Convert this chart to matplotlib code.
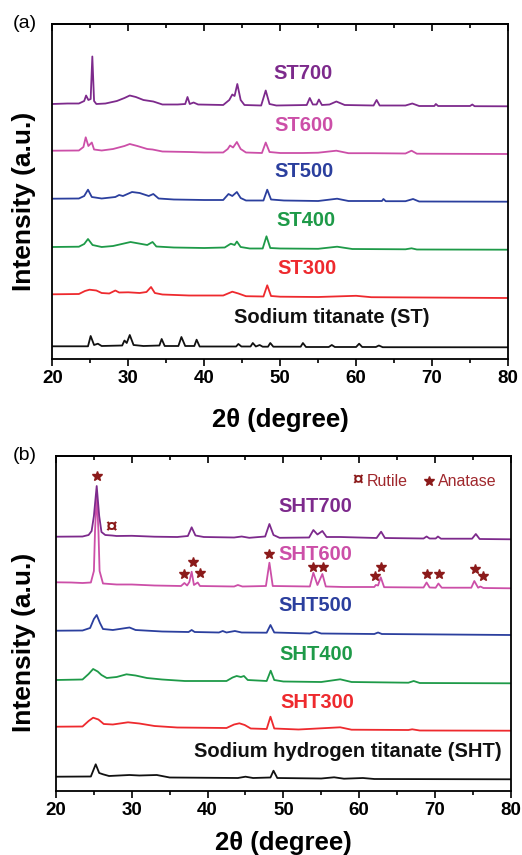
import matplotlib
matplotlib.use("Agg")
import matplotlib.pyplot as plt
from matplotlib.ticker import MultipleLocator

plt.rcParams['font.family'] = ['Liberation Sans', 'DejaVu Sans']

# ---------------- Panel (a) data: (2theta, intensity a.u. incl. offset) ----------------
st700_x = [20, 22, 23.5, 24.2, 24.45, 24.75, 25.05, 25.27, 25.5, 25.8, 27, 28.5, 29.5, 30.2, 31, 32, 33.3, 34.5,
           36.5, 37.5, 37.8, 38.1, 38.6, 39.2, 42.5, 43.3, 43.7, 44.0, 44.36, 44.8, 45.3, 47.5, 48.1, 48.6, 49.5,
           53.5, 53.9, 54.3, 54.8, 55.1, 55.5, 56.5, 57.4, 58.5, 62.3, 62.7, 63.1, 65, 66.5, 67.4, 68.3, 70.3,
           70.5, 70.8, 75, 75.3, 75.6, 80]
st700_y = [255, 255.5, 255.5, 258, 263.5, 259, 260, 302.5, 258, 255, 255.5, 258, 261, 263.5, 262, 259, 257.5,
           254.5, 254.5, 255, 262, 255, 256.5, 254.5, 254, 259, 264.5, 263, 275, 259, 254, 253.5, 268.5, 255,
           253.5, 254, 261, 254.5, 254.5, 259.5, 254, 254.5, 257.5, 254, 253.5, 259, 253.5, 253.5, 253.5, 255.5,
           253, 253, 255, 253, 253, 254.5, 252.8, 252.7]

st600_x = [20, 23.5, 24.1, 24.4, 24.75, 25.2, 25.5, 26.5, 28, 29.5, 30.2, 31.2, 32.5, 33.2, 34.5, 38, 40, 42.5,
           43.1, 43.4, 43.8, 44.3, 44.8, 45.5, 47.6, 48.1, 48.6, 50, 53, 55, 57.4, 59, 62, 66.5, 67.3, 68, 80]
st600_y = [208.3, 208.5, 212, 221.7, 213, 216.5, 209.5, 208.5, 210, 213, 215, 213, 210, 209.5, 207.5, 207,
           206.5, 206.5, 210, 213.5, 211.5, 217, 210, 206.5, 206, 216.5, 207, 206, 206, 206.3, 208.3, 205.8,
           205.8, 205.5, 208.3, 205.3, 205]

st500_x = [20, 23.5, 24.2, 24.7, 25.2, 26.5, 28.3, 28.8, 29.3, 30.5, 31.5, 32.7, 33.3, 34, 36, 40, 42.5, 43.2,
           43.7, 44.3, 44.8, 45.5, 47.8, 48.3, 48.8, 50.5, 55, 57.5, 59, 63.4, 63.6, 63.9, 66.5, 67.5, 68.3, 80]
st500_y = [160.3, 160.5, 163, 169.3, 162, 160.5, 162, 164, 163, 167, 166, 163, 165, 160.5, 159.5, 159, 159,
           165, 163, 167, 161, 158.5, 158.5, 169.3, 159.5, 158.5, 158, 160.3, 158, 158, 160, 157.8, 157.8, 160,
           157.5, 157.3]

st400_x = [20, 23.5, 24.2, 24.7, 25.3, 26.5, 28, 30.3, 32.5, 33.2, 33.7, 36, 40, 42.7, 43.5, 44.0, 44.3, 44.8,
           46, 47.7, 48.2, 48.7, 50, 55, 57.5, 59.5, 66.5, 67.3, 68, 80]
st400_y = [112, 112.3, 115, 120, 114, 112, 113, 117, 114, 117, 112.5, 111.5, 111, 111.5, 115.3, 114, 117.5, 112,
           110.5, 110.5, 122.7, 111, 110.5, 110.2, 112.3, 110, 109.7, 110.7, 109.5, 109.3]

st300_x = [20, 23.5, 24.3, 24.9, 25.8, 26.5, 27.5, 28.3, 28.8, 30, 31.5, 32.4, 33.0, 33.5, 34.5, 38, 42.5, 43.7,
           44.5, 45.5, 47.8, 48.3, 48.8, 50, 55, 60, 62, 80]
st300_y = [64.7, 65, 68, 69.3, 68.5, 66, 65.5, 68.5, 66.5, 66.7, 66, 67, 72, 66, 64.5, 63.5, 63.5, 67.3, 65.5,
           62.8, 62.5, 73.7, 63, 62.3, 62, 63.2, 61.8, 61]

st_x = [20, 24.7, 25.05, 25.5, 26.0, 26.5, 29.2, 29.5, 29.8, 30.2, 30.7, 32, 34.1, 34.4, 34.8, 36.6, 37.0, 37.5,
        38.7, 39.0, 39.4, 44.2, 44.5, 44.9, 46.1, 46.4, 46.8, 47.3, 47.7, 48.4, 48.7, 49.1, 52.7, 53.0, 53.4,
        56.4, 56.8, 57.2, 60.0, 60.4, 60.8, 62.6, 63.0, 63.5, 80]
st_y = [12.7, 12.7, 23, 14, 15.3, 13, 13.5, 18.5, 16, 24, 14, 13, 13.5, 20, 13, 13, 22, 13, 13, 19.3, 12.5,
        12.5, 15, 12.5, 12.5, 16, 12.5, 14, 12.3, 12.3, 16, 12.3, 12.3, 16, 12, 12, 14, 12, 12, 15.3, 12, 12,
        13.5, 11.8, 11.7]

labels_a = ["Sodium titanate (ST)", "ST300", "ST400", "ST500", "ST600", "ST700"]
label_a_x = [56.8, 53.5, 53.4, 53.15, 53.15, 52.97]
label_a_y = [41.7, 91, 138.3, 187.7, 233.3, 285.3]

# ---------------- Panel (b) data ----------------
sht700_x = [20, 23.5, 24.3, 24.7, 25.0, 25.37, 25.7, 26.0, 26.5, 27.4, 28, 30, 33, 36, 37.4, 37.9, 38.4, 39.5,
            43.5, 44.5, 45.5, 47.6, 48.16, 48.7, 49.5, 53.4, 53.96, 54.5, 55.15, 55.7, 57.5, 62.3, 62.9, 63.4,
            68.5, 68.9, 69.3, 70.1, 70.4, 70.8, 74.9, 75.4, 75.9, 80]
sht700_y = [254.3, 254.5, 256, 260, 275, 305, 275, 259, 256, 255.5, 255, 255.2, 254.3, 254, 255, 263.7, 255.5,
            254, 253.5, 254.5, 253.2, 254.5, 267, 256, 253.2, 253.5, 261, 256.5, 260, 254, 254, 253, 259.3, 253,
            252.5, 254.5, 252.5, 252.5, 254.5, 252.3, 252.3, 257, 252, 251.7]

sht600_x = [20, 22, 23.5, 24.6, 25.0, 25.15, 25.37, 25.6, 25.75, 26.2, 28, 30, 33, 36.5, 36.94, 37.3, 37.6,
            37.9, 38.2, 38.7, 39.0, 43.5, 44, 44.6, 47.7, 48.16, 48.6, 53.5, 53.96, 54.5, 55.15, 55.6, 58, 62.0,
            62.2, 62.5, 62.85, 63.3, 68.5, 68.9, 69.3, 70.1, 70.46, 70.9, 74.8, 75.2, 75.7, 76.0, 76.4, 80]
sht600_y = [208.7, 208.5, 208, 208.5, 220, 260, 296, 260, 220, 207.5, 206.5, 206.5, 205.5, 205, 208, 205.5,
            209, 219.3, 206, 208.5, 205, 204.5, 206, 204.5, 205, 228.3, 205, 204.5, 218.3, 206, 217, 204.5, 204,
            204, 206, 205.5, 213.7, 203.8, 203.5, 208.5, 203.5, 203.3, 207.5, 203.3, 203.3, 210, 203.3, 204.5,
            203, 202.7]

sht500_x = [20, 23.5, 24.5, 25.0, 25.37, 25.8, 26.2, 27.5, 29.7, 30.5, 34, 37.5, 37.9, 38.3, 41.5, 42, 42.5,
            43.6, 44.5, 47.8, 48.3, 48.8, 53.5, 54.2, 55, 62, 62.5, 63, 80]
sht500_y = [160.3, 160.5, 163, 172, 176, 168, 162, 161, 163.5, 161, 159.5, 159, 161, 159, 158.5, 160, 158.5,
            160, 158.5, 158.3, 166, 158.5, 157.5, 159.5, 157.5, 157, 158.5, 157, 156]

sht400_x = [20, 23.5, 24.3, 24.9, 25.5, 26.0, 26.7, 28, 29.3, 30.5, 32, 34, 37, 42.5, 43.3, 43.84, 44.4, 44.8,
            45.3, 47.8, 48.33, 48.8, 50, 55, 57.5, 59, 66.5, 67.2, 68, 80]
sht400_y = [111, 111.5, 117, 122, 119.5, 116, 113, 114, 116.7, 115.5, 113, 111.5, 110, 110, 113.5, 115, 114,
            115, 111, 110, 120.3, 111, 109.5, 109, 111.7, 109, 108.3, 110, 108, 107.7]

sht300_x = [20, 23.5, 24.3, 24.9, 25.6, 26.3, 27.5, 29.5, 31, 33, 36, 42.5, 43.5, 44.2, 44.9, 45.7, 47.8, 48.3,
            48.8, 52, 57.5, 59, 66.5, 67, 68, 80]
sht300_y = [64.3, 64.5, 70, 73.3, 71.5, 67, 66.5, 68.7, 67.5, 65, 63.5, 63, 66.5, 67.7, 66, 62.5, 62, 74.3,
            62.5, 61.5, 63.7, 61.3, 61, 61.7, 60.5, 60.3]

sht_x = [20, 24.6, 25.24, 25.7, 26.2, 27, 29.7, 31, 33.3, 35, 44, 45, 46, 48.3, 48.7, 49.2, 55, 56.7, 58, 60.5,
         62, 80]
sht_y = [14.3, 14.5, 26.7, 18, 16.7, 15, 16, 15.5, 16, 13.5, 13, 14.3, 13, 13.5, 20.3, 13, 12.5, 13.7, 12.3, 13,
         12, 11.7]

labels_b = ["Sodium hydrogen titanate (SHT)", "SHT300", "SHT400", "SHT500", "SHT600", "SHT700"]
label_b_x = [58.5, 54.47, 54.3, 54.18, 54.18, 54.18]
label_b_y = [40, 88.3, 136.7, 186, 236.7, 285]

anatase_x = [25.46, 36.94, 38.04, 39.0, 48.16, 53.96, 55.28, 62.1, 62.85, 69.0, 70.5, 75.3, 76.4]
anatase_y = [315, 217, 229.3, 217.7, 236.7, 224.3, 224.3, 215.3, 224.3, 217, 217, 222, 215.3]
rutile_x = [27.3]
rutile_y = [263.7]

colors = ["#111111", "#EE2A2E", "#1E9A48", "#2B3F9E", "#CC4FA8", "#7D2A8C"]
star_color = "#8B1A1A"

fig = plt.figure(figsize=(5.22, 8.55), dpi=100)
ax_a = fig.add_axes([52.3 / 522, 1 - 359 / 855, (508 - 52.3) / 522, 335 / 855])
ax_b = fig.add_axes([56 / 522, 1 - 791 / 855, (510.7 - 56) / 522, 335 / 855])

series_a = [(st_x, st_y), (st300_x, st300_y), (st400_x, st400_y), (st500_x, st500_y),
            (st600_x, st600_y), (st700_x, st700_y)]
series_b = [(sht_x, sht_y), (sht300_x, sht300_y), (sht400_x, sht400_y), (sht500_x, sht500_y),
            (sht600_x, sht600_y), (sht700_x, sht700_y)]

for ax, series, labels, lx, ly in [(ax_a, series_a, labels_a, label_a_x, label_a_y),
                                   (ax_b, series_b, labels_b, label_b_x, label_b_y)]:
    for (xs, ys), c in zip(series, colors):
        ax.plot(xs, ys, color=c, lw=1.3)
    for t, x, y, c in zip(labels, lx, ly, colors):
        ax.text(x, y, t, color=c, fontsize=14.5, fontweight='bold', ha='center', va='center')
    ax.set_xlim(20, 80)
    ax.set_ylim(0, 335)
    ax.set_yticks([])
    ax.xaxis.set_major_locator(MultipleLocator(10))
    ax.xaxis.set_minor_locator(MultipleLocator(5))
    ax.tick_params(axis='x', which='major', direction='out', length=5, width=1.2, labelsize=13.5, pad=3)
    ax.tick_params(axis='x', which='minor', direction='out', length=3, width=1.2)
    for lab in ax.get_xticklabels():
        lab.set_fontweight('bold')
    for s in ax.spines.values():
        s.set_linewidth(1.3)
    sec = ax.secondary_xaxis('top')
    sec.xaxis.set_major_locator(MultipleLocator(10))
    sec.xaxis.set_minor_locator(MultipleLocator(5))
    sec.tick_params(axis='x', which='major', direction='in', length=5, width=1.2, labeltop=False)
    sec.tick_params(axis='x', which='minor', direction='in', length=3, width=1.2)
    sec.spines['top'].set_linewidth(1.3)

# markers for phases
ax_b.plot(anatase_x, anatase_y, linestyle='none', marker='*', ms=7.5, color=star_color, mec=star_color)
for x, y in zip(rutile_x, rutile_y):
    ax_b.text(x, y, "¤", color=star_color, fontsize=15, fontweight='bold', ha='center', va='center')
ax_b.text(59.77, 310, "¤", color=star_color, fontsize=14, fontweight='bold', ha='center', va='center')
ax_b.text(61.0, 310, "Rutile", color="#A0282D", fontsize=11.5, ha='left', va='center')
ax_b.plot([69.23], [310], linestyle='none', marker='*', ms=7, color=star_color)
ax_b.text(70.46, 310, "Anatase", color="#A0282D", fontsize=11.5, ha='left', va='center')

# axis labels and panel letters
fig.text(24 / 522, 1 - 201 / 855, "Intensity (a.u.)", rotation=90, fontsize=19, fontweight='bold',
         ha='center', va='center')
fig.text(24 / 522, 1 - 642 / 855, "Intensity (a.u.)", rotation=90, fontsize=19, fontweight='bold',
         ha='center', va='center')
fig.text(280 / 522, 1 - 420 / 855, "2θ (degree)", fontsize=18.5, fontweight='bold', ha='center', va='center')
fig.text(283 / 522, 1 - 843 / 855, "2θ (degree)", fontsize=18.5, fontweight='bold', ha='center', va='center')
fig.text(25 / 522, 1 - 24 / 855, "(a)", fontsize=14, ha='center', va='center')
fig.text(25 / 522, 1 - 455 / 855, "(b)", fontsize=14, ha='center', va='center')

fig.savefig("out.png", dpi=100)
